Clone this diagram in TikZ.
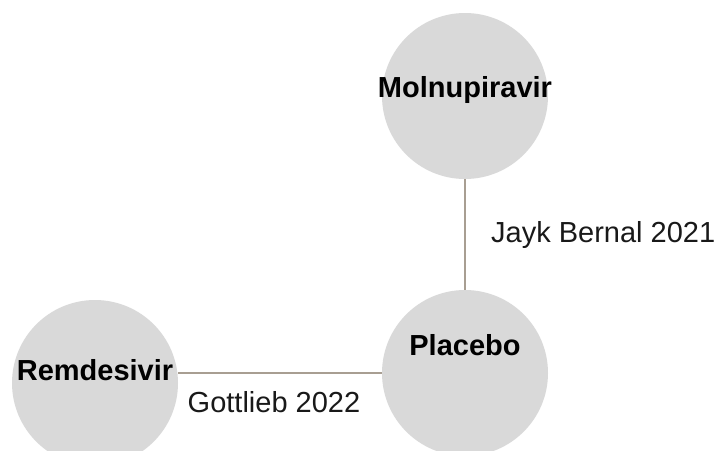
\documentclass[tikz,border=0pt]{standalone}
\usepackage{fontspec}
\setmainfont{Liberation Sans}
\definecolor{nodegray}{HTML}{D9D9D9}
\definecolor{edgebrown}{HTML}{A89E92}
\tikzset{
	drug/.style={circle, fill=nodegray, minimum size=166pt, inner sep=0pt},
	drugname/.style={font=\fontsize{29}{32}\selectfont\bfseries},
	study/.style={font=\fontsize{29}{32}\selectfont, text=black!90},
	trial/.style={draw=edgebrown, line width=1.6pt}
}
\begin{document}
\begin{tikzpicture}[x=1pt,y=-1pt]
	\useasboundingbox (0,0) rectangle (723,450);
	\clip (0,0) rectangle (723,450);
	% the three treatments
	\node[drug] (molnu) at (465,96) {};
	\node[drug] (placebo) at (465,373) {};
	\node[drug] (remde) at (95,383) {};
	\node[drugname] at (465,90) {Molnupiravir};
	\node[drugname] at (465,345) {Placebo};
	\node[drugname] at (95,370) {Remdesivir};

	% trials linking them
	\draw[trial] (molnu.south) -- (molnu.south |- placebo.north)
		node[study, midway, right, xshift=22pt] {Jayk Bernal 2021};
	\draw[trial] (remde.east |- placebo.west) -- (placebo.west)
		node[study, midway, below, xshift=-6pt, yshift=-14pt] {Gottlieb 2022};
\end{tikzpicture}
\end{document}
